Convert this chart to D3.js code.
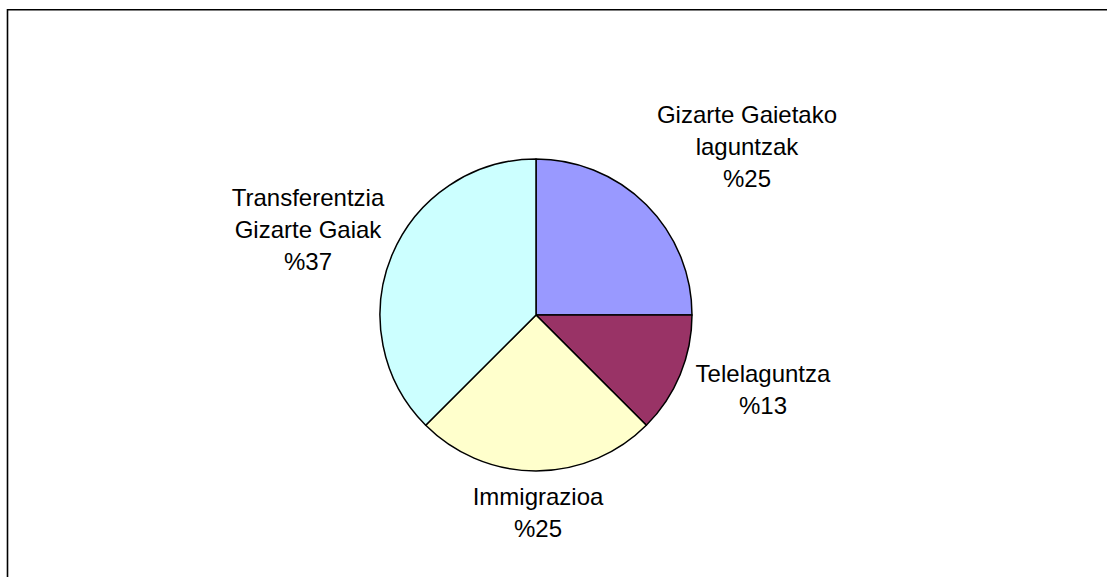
<!DOCTYPE html>
<html>
<head>
<meta charset="utf-8">
<script src="https://cdn.jsdelivr.net/npm/d3@7"></script>
<style>
  html, body { margin: 0; background: #fff; overflow: hidden; }
  svg { display: block; }
  .lbl { font-family: "Liberation Sans", Arial, sans-serif; font-size: 24px; fill: #000; }
</style>
</head>
<body>
<div id="chart"></div>
<script>
// slice names (each line of the label is one entry)
var categories = [
  ["Gizarte Gaietako", "laguntzak"],
  ["Telelaguntza"],
  ["Immigrazioa"],
  ["Transferentzia", "Gizarte Gaiak"]
];
var values = [25, 12.5, 25, 37.5];
var pctLabels = ["%25", "%13", "%25", "%37"];
var colors = ["#9999FF", "#993366", "#FFFFCC", "#CCFFFF"];

var svgWidth = 1107, svgHeight = 577;
var cx = 536, cy = 315, radius = 156;
var lineH = 32;

// where each label block sits (x centre, first baseline)
var labelPos = [
  [747, 123],
  [763, 382],
  [538, 505],
  [308, 206]
];

var svg = d3.select("#chart").append("svg")
  .attr("width", svgWidth)
  .attr("height", svgHeight);

// chart frame: only the left and top edges are inside the picture
svg.append("path")
  .attr("d", `M7.5,${svgHeight}V9.75H${svgWidth}`)
  .attr("fill", "none")
  .attr("stroke", "#000")
  .attr("stroke-width", 1.6);

var pie = d3.pie().sort(null).value(d => d);
var arc = d3.arc().innerRadius(0).outerRadius(radius);

var g = svg.append("g").attr("transform", `translate(${cx}, ${cy})`);

g.selectAll("path")
  .data(pie(values))
  .enter()
  .append("path")
  .attr("d", arc)
  .attr("fill", (d, i) => colors[i])
  .attr("stroke", "#000")
  .attr("stroke-width", 1.5)
  .attr("stroke-linejoin", "round");

// labels
categories.forEach(function(lines, i) {
  var all = lines.concat([pctLabels[i]]);
  var t = svg.append("text")
    .attr("class", "lbl")
    .attr("text-anchor", "middle");
  all.forEach(function(s, j) {
    t.append("tspan")
      .attr("x", labelPos[i][0])
      .attr("y", labelPos[i][1] + j * lineH)
      .text(s);
  });
});
</script>
</body>
</html>
